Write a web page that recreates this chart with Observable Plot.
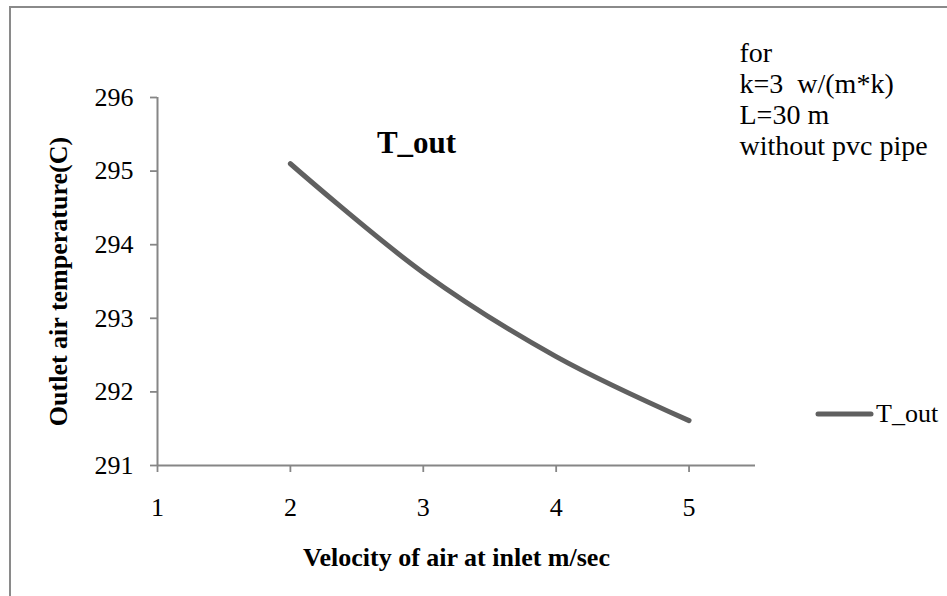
<!DOCTYPE html>
<html><head><meta charset="utf-8">
<script src="https://cdn.jsdelivr.net/npm/d3@7"></script>
<script src="https://cdn.jsdelivr.net/npm/@observablehq/plot@0.6"></script>
<style>
body{margin:0;background:#fff;}
#wrap{position:relative;width:947px;height:596px;overflow:hidden;font-family:"Liberation Serif","Times New Roman",serif;background:#fff;}
#border{position:absolute;left:9px;top:6px;width:1000px;height:1000px;border-left:2px solid #8a8a8a;border-top:2px solid #8a8a8a;pointer-events:none;}
#chart{position:absolute;left:0;top:0;}
#legend{position:absolute;left:815px;top:399px;height:30px;display:flex;align-items:center;font-size:26px;color:#000;}
#legend svg{display:block;margin-right:2px;}
</style></head><body>
<div id="wrap"><div id="chart"></div><div id="border"></div><div id="legend"></div></div>
<script>
const velocity = [2, 3, 4, 5];
const tOut = [295.10, 293.62, 292.48, 291.61];
const xTicks = [1, 2, 3, 4, 5];
const yTicks = [291, 292, 293, 294, 295, 296];
const seriesName = "T_out";
const chartTitle = "T_out";
const xTitle = "Velocity of air at inlet m/sec";
const yTitle = "Outlet air temperature(C)";
const noteLines = ["for", "k=3\u00a0\u00a0w/(m*k)", "L=30 m", "without pvc pipe"];

const data = velocity.map((v, i) => ({v, t: tOut[i]}));
const axisColor = "#868686";
const lineColor = "#606060";
const serif = "'Liberation Serif','Times New Roman',serif";

const chart = Plot.plot({
  width: 947, height: 596,
  marginLeft: 157, marginRight: 192, marginTop: 97, marginBottom: 131,
  x: {domain: [1, 5.5]},
  y: {domain: [291, 296]},
  style: {fontFamily: serif, fontSize: "26px", background: "transparent", color: "#000"},
  marks: [
    Plot.ruleX([1], {stroke: axisColor, strokeWidth: 2}),
    Plot.ruleY([291], {stroke: axisColor, strokeWidth: 2}),
    Plot.axisY({ticks: yTicks, tickSize: 7, tickPadding: 17, stroke: axisColor, strokeWidth: 1.8, fill: "#000", fontSize: 26, fontFamily: serif, fontVariant: "normal", label: null, tickFormat: d => String(d)}),
    Plot.axisX({ticks: xTicks, tickSize: 7, tickPadding: 25, stroke: axisColor, strokeWidth: 1.8, fill: "#000", fontSize: 26, fontFamily: serif, fontVariant: "normal", label: null, tickFormat: d => String(d)}),
    Plot.line(data, {x: "v", y: "t", stroke: lineColor, strokeWidth: 5, curve: "catmull-rom", strokeLinecap: "round", strokeLinejoin: "round"}),
    Plot.text([chartTitle], {frameAnchor: "top", dx: -40, dy: 46, fontSize: 31, fontFamily: serif, fontWeight: "bold", lineAnchor: "middle", fill: "#000"}),
    Plot.text([noteLines.join("\n")], {frameAnchor: "top-right", textAnchor: "start", lineAnchor: "top", dx: -16, dy: -58, fontSize: 28, fontFamily: serif, lineHeight: 1.11, fill: "#000"}),
    Plot.text([xTitle], {frameAnchor: "bottom", dy: 92, lineAnchor: "middle", textAnchor: "middle", fontSize: 26, fontFamily: serif, fontWeight: "bold", fill: "#000"}),
    Plot.text([yTitle], {frameAnchor: "left", dx: -99, rotate: -90, textAnchor: "middle", lineAnchor: "middle", fontSize: 26, fontFamily: serif, fontWeight: "bold", fill: "#000"})
  ]
});
document.getElementById("chart").appendChild(chart);

const legend = document.getElementById("legend");
legend.innerHTML = `<svg width="59" height="10"><line x1="3" y1="5" x2="56" y2="5" stroke="${lineColor}" stroke-width="5" stroke-linecap="round"/></svg><span>${seriesName}</span>`;
</script>
</body></html>
